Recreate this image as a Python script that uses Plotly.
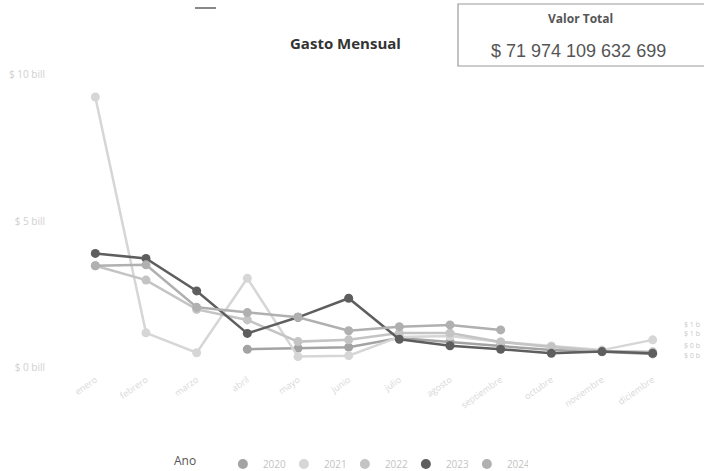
import plotly.graph_objects as go

meses = ["enero", "febrero", "marzo", "abril", "mayo", "junio", "julio",
         "agosto", "septiembre", "octubre", "noviembre", "diciembre"]

v2020 = [None, None, None, 0.64, 0.67, 0.71, 1.02, 0.89, 0.75, 0.61, 0.55, 0.48]
v2021 = [9.25, 1.20, 0.52, 3.06, 0.39, 0.42, 1.06, 1.09, 0.89, 0.75, 0.61, 0.96]
v2022 = [3.49, 3.00, 2.00, 1.64, 0.90, 0.96, 1.19, 1.19, 0.89, 0.72, 0.58, 0.55]
v2023 = [3.91, 3.74, 2.63, 1.18, 1.73, 2.38, 0.98, 0.76, 0.64, 0.50, 0.56, 0.50]
v2024 = [3.49, 3.52, 2.07, 1.89, 1.73, 1.27, 1.41, 1.47, 1.30]

anios = ["2020", "2021", "2022", "2023", "2024"]
series = [v2020, v2021, v2022, v2023, v2024]
colores = ["#a3a3a3", "#d6d6d6", "#c4c4c4", "#5e5e5e", "#b0b0b0"]

y_ticks = [0, 5, 10]
y_ticktext = ["$ 0 bill", "$ 5 bill", "$ 10 bill"]
etiquetas_fin = ["$ 1 b", "$ 1 b", "$ 0 b", "$ 0 b"]

L, T, W, H = 70, 70, 608, 302


def px_x(x):
    return (x - L) / W


def px_y(y):
    return (T + H - y) / H


fig = go.Figure()
for anio, vals, col in zip(anios, series, colores):
    fig.add_trace(go.Scatter(
        x=meses[:len(vals)], y=vals, name=anio, mode="lines+markers",
        line=dict(color=col, width=2.5),
        marker=dict(color=col, size=9),
        showlegend=False, legendgroup=anio,
    ))
for anio, col in zip(anios, colores):
    fig.add_trace(go.Scatter(
        x=[None], y=[None], name=anio, mode="markers",
        marker=dict(color=col, size=10), legendgroup=anio, showlegend=True,
    ))

fig.update_layout(
    width=704, height=471,
    margin=dict(l=L, r=704 - L - W, t=T, b=471 - T - H, autoexpand=False),
    paper_bgcolor="white", plot_bgcolor="white",
    font=dict(family="Open Sans, sans-serif"),
    showlegend=True,
    legend=dict(orientation="h", x=px_x(172), xanchor="left",
                y=px_y(464), yanchor="middle",
                font=dict(size=10, color="#c4c4c4"),
                title=dict(text="Ano      ", side="left", font=dict(size=12, color="#555555")),
                itemwidth=30, entrywidth=16, entrywidthmode="pixels"),
    xaxis=dict(type="category", categoryorder="array", categoryarray=meses,
               range=[-0.5, 11.5], showgrid=False, zeroline=False, showline=False,
               tickangle=-35, tickfont=dict(size=9, color="#d8d8d8"), ticks=""),
    yaxis=dict(range=[-0.137, 10.17], tickvals=y_ticks, ticktext=y_ticktext,
               showgrid=False, zeroline=False, showline=False,
               tickfont=dict(size=10, color="#d0d0d0"), ticks="", ticklabelstandoff=24),
)

fig.add_annotation(text="<b>Gasto Mensual</b>", xref="paper", yref="paper",
                   x=px_x(345), y=px_y(43), xanchor="center", yanchor="middle",
                   showarrow=False, font=dict(size=15, color="#333333"))

# card
fig.add_shape(type="rect", xref="paper", yref="paper",
              x0=px_x(458), x1=px_x(708), y0=px_y(66), y1=px_y(4),
              line=dict(color="#9a9a9a", width=1.2), fillcolor="white")
fig.add_annotation(text="<b>Valor Total</b>", xref="paper", yref="paper",
                   x=px_x(580), y=px_y(18), xanchor="center", yanchor="middle",
                   showarrow=False, font=dict(size=12, color="#555555"))
fig.add_annotation(text="$ 71 974 109 632 699", xref="paper", yref="paper",
                   x=px_x(578), y=px_y(51), xanchor="center", yanchor="middle",
                   showarrow=False,
                   font=dict(size=18, color="#555555", family="Liberation Sans, Arial"))

# small dash top left
fig.add_shape(type="line", xref="paper", yref="paper",
              x0=px_x(195), x1=px_x(216), y0=px_y(8), y1=px_y(8),
              line=dict(color="#888888", width=2))

# end labels
for t, yp in zip(etiquetas_fin, [324, 333, 345, 355]):
    fig.add_annotation(text=t, xref="paper", yref="paper",
                       x=px_x(702), y=px_y(yp), xanchor="right", yanchor="middle",
                       showarrow=False, font=dict(size=7, color="#c8c8c8"))

fig.write_html("out.html", config={"displayModeBar": False},
               post_script="document.body.style.margin='0';")
